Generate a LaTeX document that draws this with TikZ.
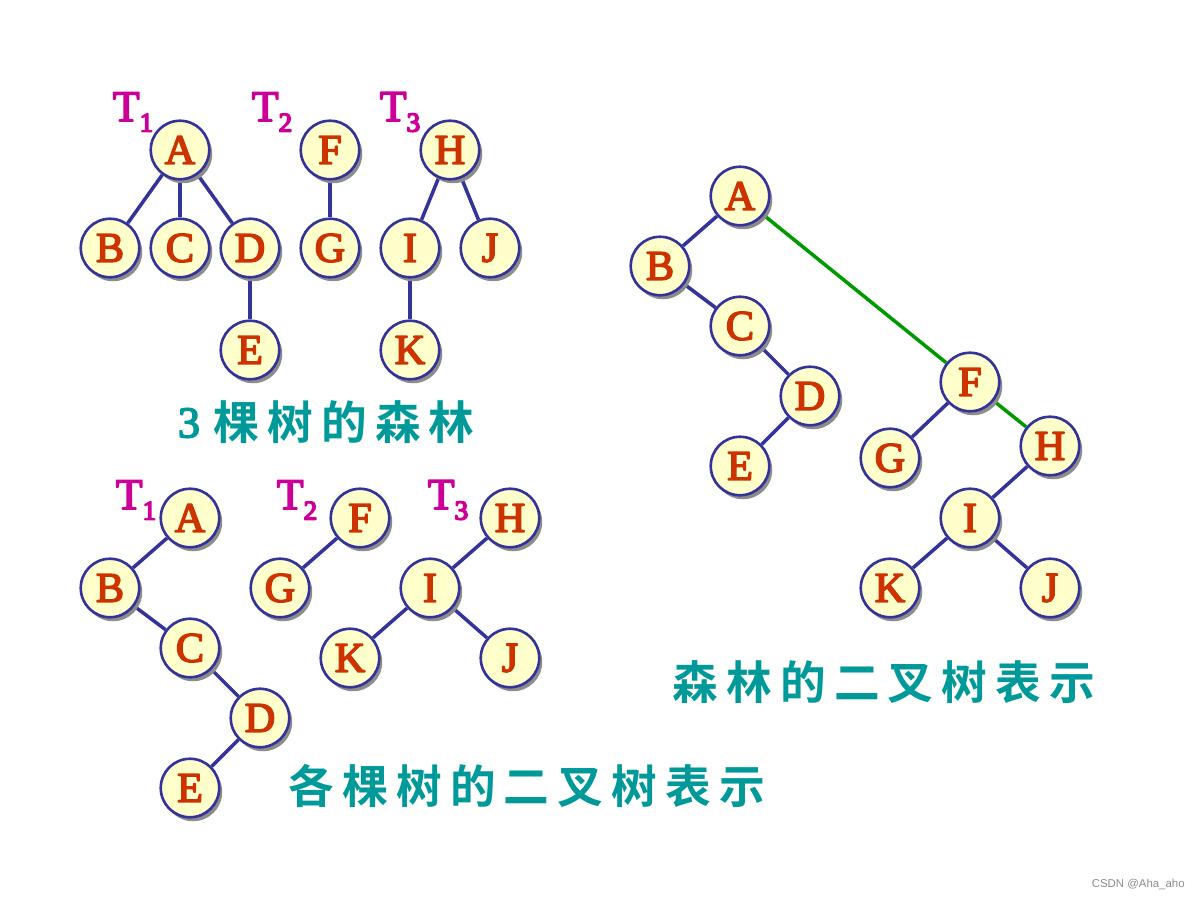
\documentclass[tikz,border=0pt]{standalone}
\usepackage{fontspec}
\setmainfont{Liberation Serif}
\newfontfamily\cjkfont{Noto Sans CJK SC Bold}[LetterSpace=18]
\newfontfamily\wmfont{Liberation Sans}
\usetikzlibrary{shadows,backgrounds}
\definecolor{nodefill}{HTML}{FFFFCC}
\definecolor{nodeline}{HTML}{333399}
\definecolor{lettercol}{HTML}{CC3300}
\definecolor{tcol}{HTML}{CC0099}
\definecolor{teal}{HTML}{009999}
\definecolor{greenline}{HTML}{009900}
% fake bold by stroking the glyph outlines
\newcommand{\strk}[2]{\special{pdf:literal direct #1 w 1 j 2 Tr}#2\special{pdf:literal direct 0 Tr 0.4 w 0 j}}
\newcommand{\tsub}[1]{\strk{0.9}{T\raisebox{-6pt}{\fontsize{15.5}{15.5}\selectfont #1}}}
\tikzset{
  tn/.style={circle, draw=nodeline, line width=1.5pt, fill=nodefill, minimum size=1.17cm, inner sep=0pt,
     font=\fontsize{24}{24}\selectfont, text=lettercol,
     drop shadow={shadow xshift=0.06cm, shadow yshift=-0.08cm, fill=black!45, opacity=1}},
  edge/.style={draw=nodeline, line width=2pt},
  gedge/.style={draw=greenline, line width=2pt},
  tlabel/.style={text=tcol, font=\fontsize{25}{25}\selectfont, inner sep=0pt},
  caption/.style={text=teal, font=\cjkfont\fontsize{26}{26}\selectfont, inner sep=0pt, anchor=west},
}
\newcommand{\bl}[1]{\strk{0.9}{#1}}
\begin{document}
\begin{tikzpicture}[x=0.02cm, y=-0.02cm]
\useasboundingbox (0,0) rectangle (1200,900);
% ---- forest of 3 trees ----
\node[tn] (fA) at (180,150) {\bl{A}};
\node[tn] (fB) at (110,248) {\bl{B}};
\node[tn] (fC) at (180,248) {\bl{C}};
\node[tn] (fD) at (250,248) {\bl{D}};
\node[tn] (fE) at (250,350) {\bl{E}};
\node[tn] (fF) at (330,150) {\bl{F}};
\node[tn] (fG) at (330,248) {\bl{G}};
\node[tn] (fH) at (450,150) {\bl{H}};
\node[tn] (fI) at (410,248) {\bl{I}};
\node[tn] (fJ) at (490,248) {\bl{J}};
\node[tn] (fK) at (410,350) {\bl{K}};
\node[tlabel] (fT1) at (133,112) {\tsub{1}};
\node[tlabel] (fT2) at (272,112) {\tsub{2}};
\node[tlabel] (fT3) at (400,112) {\tsub{3}};
\begin{scope}[on background layer]
\draw[edge] (fA) -- (fB);
\draw[edge] (fA) -- (fC);
\draw[edge] (fA) -- (fD);
\draw[edge] (fD) -- (fE);
\draw[edge] (fF) -- (fG);
\draw[edge] (fH) -- (fI);
\draw[edge] (fH) -- (fJ);
\draw[edge] (fI) -- (fK);
\end{scope}
\node[text=teal, font=\fontsize{25}{25}\selectfont, inner sep=0pt] (cap1n) at (189,423) {\bl{3}};
\node[caption] (cap1) at (213,422) {棵树的森林};
% ---- binary trees of each tree ----
\node[tn] (bA) at (190,518) {\bl{A}};
\node[tn] (bB) at (110,588) {\bl{B}};
\node[tn] (bC) at (190,648) {\bl{C}};
\node[tn] (bD) at (260,718) {\bl{D}};
\node[tn] (bE) at (190,788) {\bl{E}};
\node[tn] (bF) at (360,518) {\bl{F}};
\node[tn] (bG) at (280,588) {\bl{G}};
\node[tn] (bH) at (510,518) {\bl{H}};
\node[tn] (bI) at (430,588) {\bl{I}};
\node[tn] (bK) at (350,658) {\bl{K}};
\node[tn] (bJ) at (510,658) {\bl{J}};
\node[tlabel] (bT1) at (136,500) {\tsub{1}};
\node[tlabel] (bT2) at (297,500) {\tsub{2}};
\node[tlabel] (bT3) at (448,500) {\tsub{3}};
\begin{scope}[on background layer]
\draw[edge] (bA) -- (bB);
\draw[edge] (bB) -- (bC);
\draw[edge] (bC) -- (bD);
\draw[edge] (bD) -- (bE);
\draw[edge] (bF) -- (bG);
\draw[edge] (bH) -- (bI);
\draw[edge] (bI) -- (bK);
\draw[edge] (bI) -- (bJ);
\end{scope}
\node[caption] (cap2) at (288,786) {各棵树的二叉树表示};
% ---- binary tree of the forest ----
\node[tn] (cA) at (740,196) {\bl{A}};
\node[tn] (cB) at (660,266) {\bl{B}};
\node[tn] (cC) at (740,326) {\bl{C}};
\node[tn] (cD) at (810,396) {\bl{D}};
\node[tn] (cE) at (740,466) {\bl{E}};
\node[tn] (cF) at (970,382) {\bl{F}};
\node[tn] (cG) at (890,458) {\bl{G}};
\node[tn] (cH) at (1050,446) {\bl{H}};
\node[tn] (cI) at (970,518) {\bl{I}};
\node[tn] (cK) at (890,588) {\bl{K}};
\node[tn] (cJ) at (1050,588) {\bl{J}};
\begin{scope}[on background layer]
\draw[edge] (cA) -- (cB);
\draw[edge] (cB) -- (cC);
\draw[edge] (cC) -- (cD);
\draw[edge] (cD) -- (cE);
\draw[gedge] (cA) -- (cF);
\draw[edge] (cF) -- (cG);
\draw[gedge] (cF) -- (cH);
\draw[edge] (cH) -- (cI);
\draw[edge] (cI) -- (cK);
\draw[edge] (cI) -- (cJ);
\end{scope}
\node[caption] (cap3) at (672,682) {森林的二叉树表示};
% watermark
\node[text=black!45, font=\wmfont\fontsize{6.5}{6.5}\selectfont, anchor=east, inner sep=0pt] (wm) at (1185,884) {CSDN @Aha\_aho};
\end{tikzpicture}
\end{document}
